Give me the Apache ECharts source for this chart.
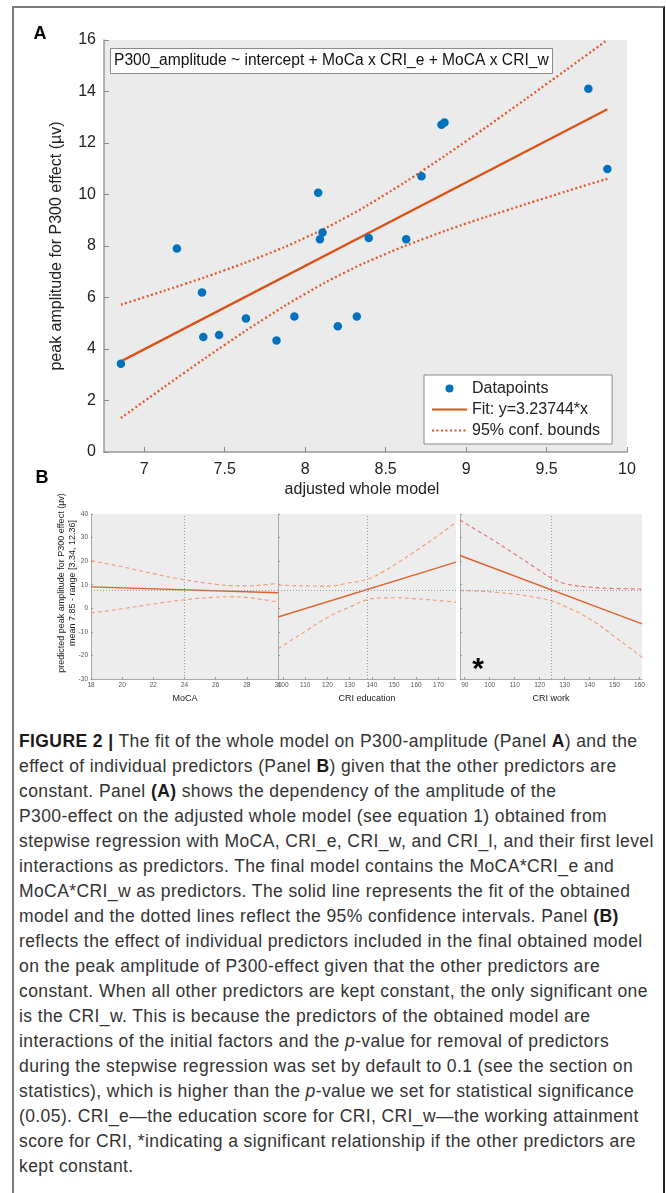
<!DOCTYPE html>
<html><head><meta charset="utf-8">
<script src="https://cdn.jsdelivr.net/npm/echarts@6/dist/echarts.min.js"></script>
<style>
html,body{margin:0;padding:0;background:#fff;width:666px;height:1193px;overflow:hidden;}
#frame{position:absolute;left:12px;top:6px;width:649px;height:1220px;border-top:2px solid #7a7a7a;border-left:2px solid #7a7a7a;border-right:2px solid #222;}
#chart{position:absolute;left:0;top:0;width:666px;height:720px;}
#caption{position:absolute;left:19px;top:729px;font-family:'Liberation Sans',Arial,sans-serif;font-weight:normal;font-size:17.5px;letter-spacing:0.4px;color:#333;}
#caption div{height:25px;line-height:25px;white-space:nowrap;}
#caption b{font-weight:700;color:#1a1a1a;}
</style></head><body>
<div id="frame"></div>
<div id="chart"></div>
<div id="caption">
<div><b>FIGURE 2</b> <b>|</b> The fit of the whole model on P300-amplitude (Panel <b>A</b>) and the</div>
<div>effect of individual predictors (Panel <b>B</b>) given that the other predictors are</div>
<div>constant. Panel <b>(A)</b> shows the dependency of the amplitude of the</div>
<div>P300-effect on the adjusted whole model (see equation 1) obtained from</div>
<div>stepwise regression with MoCA, CRI_e, CRI_w, and CRI_l, and their first level</div>
<div>interactions as predictors. The final model contains the MoCA*CRI_e and</div>
<div>MoCA*CRI_w as predictors. The solid line represents the fit of the obtained</div>
<div>model and the dotted lines reflect the 95% confidence intervals. Panel <b>(B)</b></div>
<div>reflects the effect of individual predictors included in the final obtained model</div>
<div>on the peak amplitude of P300-effect given that the other predictors are</div>
<div>constant. When all other predictors are kept constant, the only significant one</div>
<div>is the CRI_w. This is because the predictors of the obtained model are</div>
<div>interactions of the initial factors and the <i>p</i>-value for removal of predictors</div>
<div>during the stepwise regression was set by default to 0.1 (see the section on</div>
<div>statistics), which is higher than the <i>p</i>-value we set for statistical significance</div>
<div>(0.05). CRI_e&#8212;the education score for CRI, CRI_w&#8212;the working attainment</div>
<div>score for CRI, *indicating a significant relationship if the other predictors are</div>
<div>kept constant.</div>
</div>
<script>
// ---------- Panel A data ----------
const dotX = [6.855, 7.203, 7.359, 7.367, 7.465, 7.632, 7.822, 7.933, 8.081, 8.092, 8.108, 8.203, 8.321, 8.395, 8.628, 8.723, 8.847, 8.866, 9.760, 9.878];
const dotY = [3.43, 7.90, 6.19, 4.47, 4.54, 5.18, 4.33, 5.26, 10.07, 8.26, 8.52, 4.88, 5.26, 8.31, 8.26, 10.71, 12.71, 12.80, 14.11, 10.99];
const fitX = [6.855, 9.878];
const fitY = [3.52, 13.31];
const boundX = [6.855, 7.0, 7.25, 7.5, 7.75, 8.0, 8.25, 8.5, 8.75, 9.0, 9.25, 9.5, 9.75, 9.878];
const upperY = [5.72, 6.01, 6.52, 7.06, 7.65, 8.32, 9.10, 10.01, 11.01, 12.07, 13.17, 14.29, 15.42, 16.01];
const lowerY = [1.32, 1.97, 3.08, 4.16, 5.19, 6.14, 6.98, 7.69, 8.31, 8.87, 9.38, 9.88, 10.37, 10.61];
const ticksAX = [7, 7.5, 8, 8.5, 9, 9.5, 10];

// ---------- Panel B data ----------
const yMean = 7.85;
const mocaMean = 24;
const mocaFitX = [18, 30];
const mocaFitY = [9.1, 6.6];
const mocaX = [18, 20, 22, 24, 26, 27, 28, 29, 30];
const mocaUp = [20.2, 17.6, 14.7, 12.1, 10.2, 9.6, 9.5, 9.9, 10.6];
const mocaLo = [-2.0, -0.2, 1.8, 3.6, 4.7, 4.9, 4.6, 3.7, 2.7];

const eduMean = 137.9;
const eduFitX = [97.7, 177.9];
const eduFitY = [-3.7, 19.6];
const eduX = [97.7, 105, 110, 120, 130, 137.9, 145, 150, 160, 170, 177.9];
const eduUp = [9.9, 9.6, 9.5, 9.4, 10.8, 12.3, 15.5, 18.3, 24.5, 31.0, 36.5];
const eduLo = [-17.2, -12.8, -9.8, -3.9, 0.5, 3.6, 4.4, 4.5, 4.0, 3.3, 2.6];
const eduTicks = [100, 110, 120, 130, 140, 150, 160, 170];

const workMean = 124.5;
const workFitX = [88.1, 161];
const workFitY = [22.4, -6.6];
const workX = [88.1, 95, 100, 110, 120, 124.5, 130, 140, 150, 161];
const workUp = [37.5, 33.0, 29.8, 23.0, 16.0, 13.0, 10.5, 9.0, 8.4, 8.2];
const workLo = [7.5, 7.3, 7.0, 6.0, 4.3, 3.2, 0.9, -4.5, -12.0, -20.8];
const workTicks = [90, 100, 110, 120, 130, 140, 150, 160];

const FONT = "'Liberation Sans', Arial, sans-serif";
const zip = (xs, ys) => xs.map((x, i) => [x, ys[i]]);

const chart = echarts.init(document.getElementById('chart'), null, {renderer: 'canvas'});

function bAxisX(idx, min, max, extra) {
  return Object.assign({
    type: 'value', gridIndex: idx, min: min, max: max,
    axisLine: {show: true, onZero: false, lineStyle: {color: '#a8a8a8', width: 1}},
    axisTick: {show: true, inside: true, length: 2, lineStyle: {color: '#999'}},
    axisLabel: {fontSize: 6.5, color: '#555', margin: 3, fontFamily: FONT},
    splitLine: {show: false}
  }, extra || {});
}
function bAxisY(idx, showLabel) {
  return {
    type: 'value', gridIndex: idx, min: -30, max: 40, interval: 10,
    axisLine: {show: true, onZero: false, lineStyle: {color: '#a8a8a8', width: 1}},
    axisTick: {show: true, inside: true, length: 2, lineStyle: {color: '#999'}},
    axisLabel: {show: showLabel, fontSize: 6.5, color: '#555', margin: 3, fontFamily: FONT},
    splitLine: {show: false}
  };
}
function bSeries(idx, fx, fy, bx, up, lo, meanX, upColor) {
  const dash = {type: 'line', xAxisIndex: idx, yAxisIndex: idx, symbol: 'none', smooth: true,
    lineStyle: {color: '#f09a72', width: 1.1, type: [4, 3]}, z: 3};
  return [
    Object.assign({}, dash, {data: zip(bx, up), lineStyle: {color: upColor || '#f09a72', width: 1.1, type: [4, 3]}}),
    Object.assign({}, dash, {data: zip(bx, lo)}),
    {type: 'line', xAxisIndex: idx, yAxisIndex: idx, symbol: 'none', data: zip(fx, fy),
     lineStyle: {color: '#e0612e', width: 1.4}, z: 4,
     markLine: {symbol: 'none', silent: true, label: {show: false},
       lineStyle: {type: [1, 2], color: '#9a9a9a', width: 1},
       data: [{xAxis: meanX}, {yAxis: yMean}]}}
  ];
}

const option = {
  animation: false,
  textStyle: {fontFamily: FONT},
  title: {
    text: 'P300_amplitude ~ intercept + MoCa x CRI_e + MoCA x CRI_w',
    left: 110, top: 48, padding: [4, 4, 4, 4],
    backgroundColor: '#fff', borderColor: '#8a8a8a', borderWidth: 1,
    textStyle: {fontSize: 15.6, fontWeight: 'normal', color: '#111', fontFamily: FONT, lineHeight: 18}
  },
  legend: {
    data: [
      {name: 'Datapoints'},
      {name: 'Fit: y=3.23744*x', itemStyle: {opacity: 0}},
      {name: '95% conf. bounds', itemStyle: {opacity: 0}}
    ],
    orient: 'vertical', left: 424, top: 375,
    itemWidth: 35, itemHeight: 8, itemGap: 2,
    padding: [4, 12, 4, 7],
    backgroundColor: '#fff', borderColor: '#8a8a8a', borderWidth: 1,
    selectedMode: false,
    textStyle: {fontSize: 16, color: '#222', fontFamily: FONT, lineHeight: 19}
  },
  grid: [
    {left: 104, top: 40, width: 523, height: 412, show: true, backgroundColor: '#ebebeb', borderWidth: 0},
    {left: 91, top: 514, width: 187, height: 165, show: true, backgroundColor: '#ededed', borderWidth: 0},
    {left: 278, top: 514, width: 178, height: 165, show: true, backgroundColor: '#ededed', borderWidth: 0},
    {left: 460, top: 514, width: 182, height: 165, show: true, backgroundColor: '#ededed', borderWidth: 0}
  ],
  xAxis: [
    {type: 'value', gridIndex: 0, min: 6.75, max: 10,
     axisLine: {show: true, onZero: false, lineStyle: {color: '#9a9a9a', width: 1.5}},
     axisTick: {show: true, inside: true, length: 5, customValues: ticksAX, lineStyle: {color: '#888'}},
     axisLabel: {customValues: ticksAX, fontSize: 16, color: '#222', margin: 10, fontFamily: FONT},
     splitLine: {show: false}},
    bAxisX(1, 18, 30, {interval: 2}),
    bAxisX(2, 97.7, 177.9, {axisTick: {show: true, inside: true, length: 2, customValues: eduTicks, lineStyle: {color: '#999'}},
      axisLabel: {customValues: eduTicks, fontSize: 6.5, color: '#555', margin: 3, fontFamily: FONT}}),
    bAxisX(3, 88.1, 161, {axisTick: {show: true, inside: true, length: 2, customValues: workTicks, lineStyle: {color: '#999'}},
      axisLabel: {customValues: workTicks, fontSize: 6.5, color: '#555', margin: 3, fontFamily: FONT}})
  ],
  yAxis: [
    {type: 'value', gridIndex: 0, min: 0, max: 16, interval: 2,
     axisLine: {show: true, onZero: false, lineStyle: {color: '#9a9a9a', width: 1.5}},
     axisTick: {show: true, inside: true, length: 5, lineStyle: {color: '#888'}},
     axisLabel: {fontSize: 16, color: '#222', margin: 8, fontFamily: FONT},
     splitLine: {show: false}},
    bAxisY(1, true), bAxisY(2, false), bAxisY(3, false)
  ],
  series: [
    {name: '95% conf. bounds', type: 'line', xAxisIndex: 0, yAxisIndex: 0, symbol: 'none', smooth: true,
     data: zip(boundX, upperY), lineStyle: {color: '#e2572a', width: 2.3, type: [2, 2.5]}, itemStyle: {color: '#e2572a'}},
    {name: '95% conf. bounds', type: 'line', xAxisIndex: 0, yAxisIndex: 0, symbol: 'none', smooth: true,
     data: zip(boundX, lowerY), lineStyle: {color: '#e2572a', width: 2.3, type: [2, 2.5]}, itemStyle: {color: '#e2572a'}},
    {name: 'Fit: y=3.23744*x', type: 'line', xAxisIndex: 0, yAxisIndex: 0, symbol: 'none',
     data: zip(fitX, fitY), lineStyle: {color: '#d95319', width: 2.3}, itemStyle: {color: '#d95319'}},
    {name: 'Datapoints', type: 'scatter', xAxisIndex: 0, yAxisIndex: 0, symbolSize: 8.5,
     data: zip(dotX, dotY), itemStyle: {color: '#0072bd', opacity: 1}, z: 5},
    ...bSeries(1, mocaFitX, mocaFitY, mocaX, mocaUp, mocaLo, mocaMean),
    ...bSeries(2, eduFitX, eduFitY, eduX, eduUp, eduLo, eduMean),
    ...bSeries(3, workFitX, workFitY, workX, workUp, workLo, workMean, '#ec6a6a')
  ],
  graphic: [
    {type: 'text', x: 40, y: 34, style: {text: 'A', font: 'bold 18px ' + FONT, fill: '#000', align: 'center', verticalAlign: 'middle'}},
    {type: 'text', x: 42, y: 478, style: {text: 'B', font: 'bold 18px ' + FONT, fill: '#000', align: 'center', verticalAlign: 'middle'}},
    {type: 'text', x: 57, y: 246, rotation: Math.PI / 2, style: {text: 'peak amplitude for P300 effect (\u00b5v)', font: '16px ' + FONT, fill: '#222', align: 'center', verticalAlign: 'middle'}},
    {type: 'text', x: 362, y: 490, style: {text: 'adjusted whole model', font: '16px ' + FONT, fill: '#222', align: 'center', verticalAlign: 'middle'}},
    {type: 'text', x: 62, y: 583, rotation: Math.PI / 2, style: {text: 'predicted peak amplitude for P300 effect (\u00b5v)', font: '9px ' + FONT, fill: '#222', align: 'center', verticalAlign: 'middle'}},
    {type: 'text', x: 73, y: 583, rotation: Math.PI / 2, style: {text: 'mean 7.85 - range [3.34, 12.36]', font: '9px ' + FONT, fill: '#222', align: 'center', verticalAlign: 'middle'}},
    {type: 'text', x: 185, y: 699, style: {text: 'MoCA', font: '9px ' + FONT, fill: '#222', align: 'center', verticalAlign: 'middle'}},
    {type: 'text', x: 367, y: 699, style: {text: 'CRI education', font: '9px ' + FONT, fill: '#222', align: 'center', verticalAlign: 'middle'}},
    {type: 'text', x: 551, y: 699, style: {text: 'CRI work', font: '9px ' + FONT, fill: '#222', align: 'center', verticalAlign: 'middle'}},
    {type: 'text', x: 478, y: 670, style: {text: '*', font: 'bold 30px ' + FONT, fill: '#000', align: 'center', verticalAlign: 'middle'}}
  ]
};
chart.setOption(option);
</script>
</body></html>
